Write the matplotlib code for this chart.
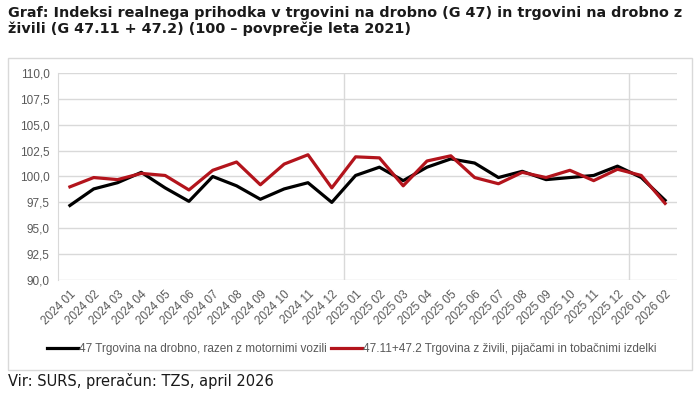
import matplotlib
matplotlib.use('Agg')
import matplotlib.pyplot as plt
from matplotlib.patches import Rectangle

months = ['2024 01', '2024 02', '2024 03', '2024 04', '2024 05', '2024 06',
          '2024 07', '2024 08', '2024 09', '2024 10', '2024 11', '2024 12',
          '2025 01', '2025 02', '2025 03', '2025 04', '2025 05', '2025 06',
          '2025 07', '2025 08', '2025 09', '2025 10', '2025 11', '2025 12',
          '2026 01', '2026 02']
retail_47 = [97.2, 98.8, 99.4, 100.4, 98.9, 97.6, 100.0, 99.1, 97.8, 98.8, 99.4, 97.5,
             100.1, 100.9, 99.6, 100.9, 101.7, 101.3, 99.9, 100.5, 99.7, 99.9, 100.1, 101.0,
             99.9, 97.7]
food_47 = [99.0, 99.9, 99.7, 100.3, 100.1, 98.7, 100.6, 101.4, 99.2, 101.2, 102.1, 98.9,
           101.9, 101.8, 99.1, 101.5, 102.0, 99.9, 99.3, 100.4, 99.9, 100.6, 99.6, 100.7,
           100.1, 97.4]
y_ticks = [90.0, 92.5, 95.0, 97.5, 100.0, 102.5, 105.0, 107.5, 110.0]
label_47 = '47 Trgovina na drobno, razen z motornimi vozili'
label_food = '47.11+47.2 Trgovina z živili, pijačami in tobačnimi izdelki'

W, H = 700, 396
body_font = ['Liberation Sans Narrow', 'Liberation Sans', 'DejaVu Sans']
grey = '#595959'
grid = '#D9D9D9'

fig = plt.figure(figsize=(W / 100, H / 100), dpi=100)

# outer chart frame
fig.patches.append(Rectangle((8 / W, 1 - 370 / H), 684 / W, 312 / H,
                             transform=fig.transFigure, fill=False,
                             edgecolor=grid, linewidth=1))

ax = fig.add_axes([58 / W, 1 - 280 / H, 619 / W, 207 / H])
x = list(range(len(months)))
ax.plot(x, retail_47, color='black', linewidth=2.3, label=label_47)
ax.plot(x, food_47, color='#B3141C', linewidth=2.3, label=label_food)

ax.set_xlim(-0.5, len(months) - 0.5)
ax.set_ylim(90, 110)
ax.set_yticks(y_ticks)
ax.set_yticklabels([('%.1f' % v).replace('.', ',') for v in y_ticks],
                   family=body_font, fontsize=8.5, color=grey)
ax.set_xticks(x)
ax.set_xticklabels(months, rotation=45, ha='right', rotation_mode='anchor',
                   family=body_font, fontsize=8.5, color=grey)
ax.tick_params(length=0, pad=6)
ax.grid(axis='y', color=grid, linewidth=1)
ax.set_axisbelow(True)
for s in ['top', 'right', 'bottom']:
    ax.spines[s].set_visible(False)
ax.spines['left'].set_color(grid)
# year separators
for b in [11.5, 23.5]:
    ax.axvline(b, color=grid, linewidth=1, zorder=0)

ax.legend(loc='center', bbox_to_anchor=(352 / W, 1 - 349 / H),
          bbox_transform=fig.transFigure, ncol=2, frameon=False,
          prop={'family': body_font, 'size': 8.5}, handlelength=2.6,
          handletextpad=0.1, columnspacing=0.4, labelcolor=grey)

fig.text(8 / W, 1 - 6 / H,
         'Graf: Indeksi realnega prihodka v trgovini na drobno (G 47) in trgovini na drobno z\n'
         'živili (G 47.11 + 47.2) (100 – povprečje leta 2021)',
         ha='left', va='top', fontsize=10.4, fontweight='bold', color='#1a1a1a',
         linespacing=1.15)
fig.text(8 / W, 1 - 381 / H, 'Vir: SURS, preračun: TZS, april 2026',
         ha='left', va='center', fontsize=10.5, color='#1a1a1a')

fig.savefig('out.png', dpi=100)
